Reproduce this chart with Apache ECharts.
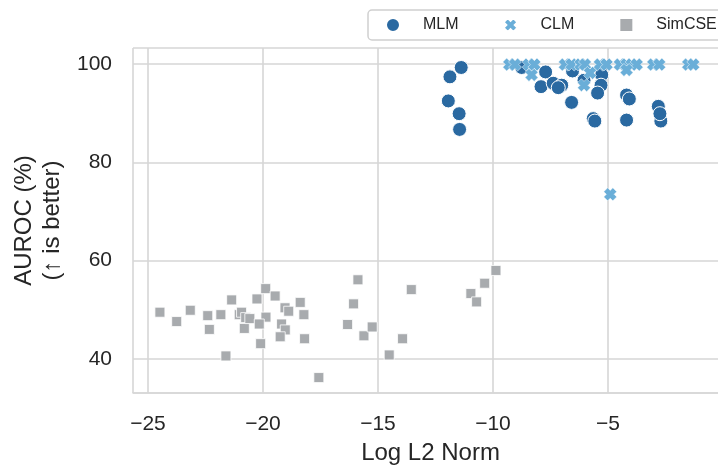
<!DOCTYPE html>
<html>
<head>
<meta charset="utf-8">
<script src="https://cdn.jsdelivr.net/npm/echarts@6/dist/echarts.min.js"></script>
<style>
  html, body { margin: 0; padding: 0; background: #ffffff; }
  #chart { width: 718px; height: 465px; }
</style>
</head>
<body>
<div id="chart"></div>
<script>
// MLM models: log L2 norm vs AUROC (%)
const mlmLogNorm = [-11.38, -11.87, -11.94, -11.47, -11.45, -8.75, -7.71, -7.91, -7.38, -7.01,
  -7.16, -6.58, -6.54, -6.04, -5.30, -5.27, -5.30, -5.45, -5.64, -5.57,
  -4.19, -4.07, -4.19, -2.81, -2.70, -2.74];
const mlmAuroc = [99.3, 97.4, 92.5, 89.9, 86.7, 99.3, 98.4, 95.4, 96.1, 95.7,
  95.2, 92.2, 98.6, 96.7, 99.1, 97.8, 95.7, 94.1, 88.9, 88.4,
  93.7, 92.9, 88.6, 91.4, 88.4, 89.9];

// CLM models
const clmLogNorm = [-9.29, -9.04, -8.45, -8.20, -6.87, -6.58, -6.19, -6.00, -5.35, -5.06,
  -4.48, -4.19, -3.97, -3.75, -3.03, -2.77, -1.51, -1.29, -8.32, -5.78,
  -6.04, -4.19, -4.90];
const clmAuroc = [99.9, 99.9, 99.9, 99.9, 99.9, 99.9, 99.9, 99.9, 99.9, 99.9,
  99.9, 99.9, 99.9, 99.9, 99.9, 99.9, 99.9, 99.9, 97.8, 98.2,
  95.7, 98.8, 73.5];

// SimCSE models
const simcseLogNorm = [-24.48, -23.75, -23.16, -22.40, -22.33, -21.83, -21.36, -21.61, -21.03, -20.93,
  -20.75, -20.81, -20.57, -20.26, -19.88, -19.87, -20.16, -20.10, -19.47, -19.04,
  -18.88, -18.38, -18.22, -19.19, -19.03, -19.25, -18.19, -17.57, -15.87, -16.06,
  -16.32, -15.61, -15.25, -13.55, -13.93, -14.51, -10.96, -10.71, -10.36, -9.87];
const simcseAuroc = [49.5, 47.6, 49.9, 48.8, 46.0, 49.0, 52.0, 40.6, 49.0, 49.5,
  48.4, 46.2, 48.2, 52.2, 54.3, 48.5, 47.1, 43.1, 52.8, 50.4,
  49.7, 51.5, 49.0, 47.1, 45.9, 44.5, 44.1, 36.2, 56.1, 51.2,
  47.0, 44.7, 46.5, 54.1, 44.1, 40.8, 53.3, 51.6, 55.4, 58.0];

const seriesNames = ['MLM', 'CLM', 'SimCSE'];

const pairs = (xs, ys) => xs.map((x, i) => [x, ys[i]]);
const minus = v => String(v).replace('-', '\u2212');

const TEXT = '#262626';
const GRID = '#d6d6d6';
const FONT = '"Liberation Sans", Arial, Helvetica, sans-serif';
// filled "X" marker with thick arms
const CROSS = 'path://M3,0 L5,2 L7,0 L10,3 L8,5 L10,7 L7,10 L5,8 L3,10 L0,7 L2,5 L0,3 Z';

const chart = echarts.init(document.getElementById('chart'), null, { renderer: 'canvas' });

chart.setOption({
  backgroundColor: '#ffffff',
  animation: false,
  textStyle: { fontFamily: FONT },
  legend: {
    data: [
      { name: 'MLM', icon: 'circle' },
      { name: 'CLM', icon: CROSS, textStyle: { rich: { n: { padding: [0, 2, 0, 18] } } } },
      { name: 'SimCSE', icon: 'rect' }
    ],
    orient: 'horizontal',
    left: 368,
    top: 10,
    width: 420,
    padding: [7, 16, 7, 17],
    itemWidth: 14,
    itemHeight: 14,
    itemGap: 44,
    borderColor: '#d0d0d0',
    borderWidth: 1.5,
    borderRadius: 4,
    backgroundColor: '#ffffff',
    formatter: '{n|{name}}',
    textStyle: {
      color: TEXT,
      fontSize: 16,
      fontFamily: FONT,
      rich: { n: { padding: [0, 0, 0, 18], fontSize: 16, fontFamily: FONT, color: TEXT } }
    }
  },
  grid: { left: 133, width: 595, top: 48, height: 345, containLabel: false, outerBoundsMode: 'none' },
  xAxis: {
    type: 'value',
    min: -25.65,
    max: 0.22,
    splitNumber: 5,
    name: 'Log L2 Norm',
    nameLocation: 'middle',
    nameGap: 48,
    nameTextStyle: { fontSize: 24, color: TEXT, fontFamily: FONT },
    axisLine: { show: true, lineStyle: { color: GRID, width: 1.6 } },
    axisTick: { show: false },
    splitLine: { show: true, lineStyle: { color: GRID, width: 1.6 } },
    axisLabel: {
      fontSize: 21, color: TEXT, margin: 21, fontFamily: FONT,
      showMinLabel: false, showMaxLabel: false,
      formatter: v => (v < 0 && Math.abs(v % 5) < 1e-9 ? minus(v) : '')
    }
  },
  yAxis: {
    type: 'value',
    min: 33.06,
    max: 103.27,
    splitNumber: 4,
    name: 'AUROC (%)\n(\u2191 is better)',
    nameLocation: 'middle',
    nameGap: 66,
    nameTextStyle: { fontSize: 24, color: TEXT, fontFamily: FONT, lineHeight: 28 },
    axisLine: { show: true, lineStyle: { color: GRID, width: 1.6 } },
    axisTick: { show: false },
    splitLine: { show: true, lineStyle: { color: GRID, width: 1.6 } },
    axisLabel: {
      fontSize: 21, color: TEXT, margin: 21, fontFamily: FONT,
      showMinLabel: false, showMaxLabel: false,
      formatter: v => (Math.abs(v % 20) < 1e-9 ? String(v) : '')
    }
  },
  series: [
    {
      name: seriesNames[2],
      type: 'scatter',
      symbol: 'rect',
      symbolSize: 10,
      data: pairs(simcseLogNorm, simcseAuroc),
      itemStyle: { color: '#a8abae', borderColor: '#ffffff', borderWidth: 0.8, opacity: 1 }
    },
    {
      name: seriesNames[0],
      type: 'scatter',
      symbol: 'circle',
      symbolSize: 14,
      data: pairs(mlmLogNorm, mlmAuroc),
      itemStyle: { color: '#2a69a1', borderColor: '#ffffff', borderWidth: 1, opacity: 1 }
    },
    {
      name: seriesNames[1],
      type: 'scatter',
      symbol: CROSS,
      symbolSize: 13,
      data: pairs(clmLogNorm, clmAuroc),
      itemStyle: { color: '#6aaed8', borderColor: '#ffffff', borderWidth: 0.5, opacity: 1 }
    }
  ]
});
</script>
</body>
</html>
